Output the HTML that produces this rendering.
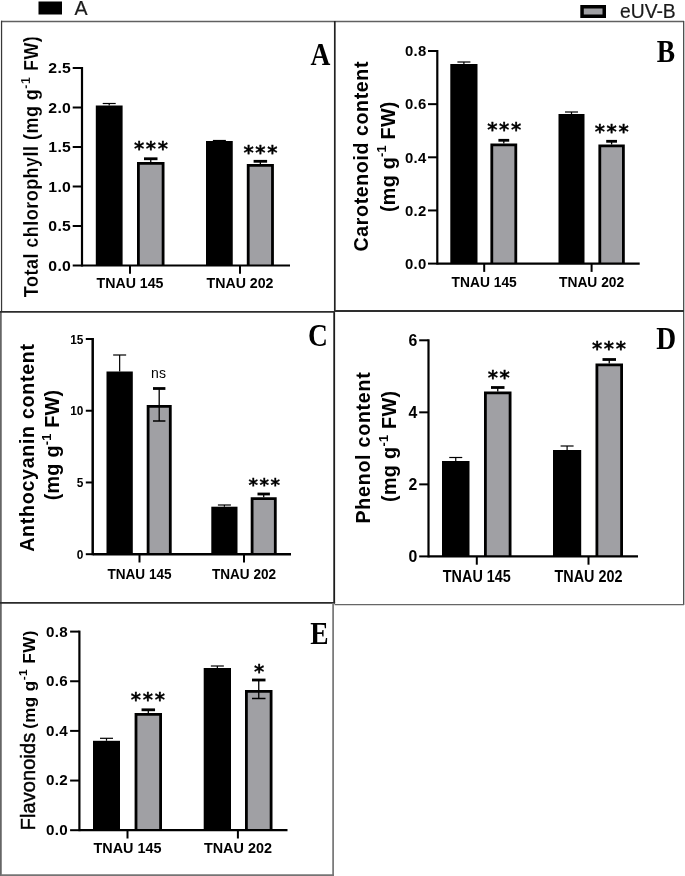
<!DOCTYPE html>
<html lang="en"><head><meta charset="utf-8"><title>Figure</title>
<style>html,body{margin:0;padding:0;background:#fff}svg{display:block}</style></head>
<body>
<svg width="685" height="876" viewBox="0 0 685 876">
<rect width="685" height="876" fill="#fff"/>
<line x1="1" y1="21.5" x2="335" y2="21.5" stroke="#606060" stroke-width="1.4"/>
<line x1="335" y1="21.5" x2="684" y2="21.5" stroke="#606060" stroke-width="1.4"/>
<line x1="1.55" y1="20.7" x2="1.55" y2="311" stroke="#383838" stroke-width="1.25"/>
<line x1="0.85" y1="311" x2="0.85" y2="876" stroke="#666" stroke-width="1.8"/>
<line x1="334.8" y1="21" x2="334.8" y2="311" stroke="#222" stroke-width="1.7"/>
<line x1="334.2" y1="311" x2="334.2" y2="603.3" stroke="#1c1c1c" stroke-width="1.8"/>
<line x1="683.7" y1="21" x2="683.7" y2="605" stroke="#484848" stroke-width="1.3"/>
<line x1="684.6" y1="21" x2="684.6" y2="605" stroke="#c8c8c8" stroke-width="0.8"/>
<line x1="0" y1="311.8" x2="335" y2="311.8" stroke="#2c2c2c" stroke-width="1.7"/>
<line x1="334.5" y1="311.05" x2="684" y2="311.05" stroke="#2e2e2e" stroke-width="2.0"/>
<line x1="0" y1="602.9" x2="335.1" y2="602.9" stroke="#2a2a2a" stroke-width="1.8"/>
<line x1="334.5" y1="604.6" x2="684" y2="604.6" stroke="#666" stroke-width="1.3"/>
<line x1="333.1" y1="603" x2="333.1" y2="876" stroke="#747474" stroke-width="1.7"/>
<line x1="0.5" y1="875.1" x2="334" y2="875.1" stroke="#747474" stroke-width="1.9"/>
<rect x="38.5" y="1.5" width="23.5" height="13" fill="#000"/>
<text x="74.6" y="15.4" font-size="19.6" font-weight="normal" text-anchor="start" font-family='"Liberation Sans", sans-serif' fill="#1a1a1a" stroke="#1a1a1a" stroke-width="0.2">A</text>
<rect x="582.05" y="6.75" width="22.2" height="9.5" fill="#a0a0a4" stroke="#000" stroke-width="3.5"/>
<text x="620" y="18.4" font-size="19.3" font-weight="normal" text-anchor="start" font-family='"Liberation Sans", sans-serif' fill="#1a1a1a" stroke="#1a1a1a" stroke-width="0.2">eUV-B</text>
<line x1="82" y1="67" x2="82" y2="266.5" stroke="#000" stroke-width="2.2"/>
<line x1="72.7" y1="265.5" x2="82" y2="265.5" stroke="#000" stroke-width="2"/>
<text transform="translate(71.2 270.9) scale(1 0.95)" font-size="15.8" font-weight="bold" text-anchor="end" font-family='"Liberation Sans", sans-serif' letter-spacing="0.3">0.0</text>
<line x1="72.7" y1="226.0" x2="82" y2="226.0" stroke="#000" stroke-width="2"/>
<text transform="translate(71.2 231.4) scale(1 0.95)" font-size="15.8" font-weight="bold" text-anchor="end" font-family='"Liberation Sans", sans-serif' letter-spacing="0.3">0.5</text>
<line x1="72.7" y1="186.5" x2="82" y2="186.5" stroke="#000" stroke-width="2"/>
<text transform="translate(71.2 191.9) scale(1 0.95)" font-size="15.8" font-weight="bold" text-anchor="end" font-family='"Liberation Sans", sans-serif' letter-spacing="0.3">1.0</text>
<line x1="72.7" y1="147.0" x2="82" y2="147.0" stroke="#000" stroke-width="2"/>
<text transform="translate(71.2 152.4) scale(1 0.95)" font-size="15.8" font-weight="bold" text-anchor="end" font-family='"Liberation Sans", sans-serif' letter-spacing="0.3">1.5</text>
<line x1="72.7" y1="107.5" x2="82" y2="107.5" stroke="#000" stroke-width="2"/>
<text transform="translate(71.2 112.9) scale(1 0.95)" font-size="15.8" font-weight="bold" text-anchor="end" font-family='"Liberation Sans", sans-serif' letter-spacing="0.3">2.0</text>
<line x1="72.7" y1="68.0" x2="82" y2="68.0" stroke="#000" stroke-width="2"/>
<text transform="translate(71.2 73.4) scale(1 0.95)" font-size="15.8" font-weight="bold" text-anchor="end" font-family='"Liberation Sans", sans-serif' letter-spacing="0.3">2.5</text>
<line x1="130" y1="265.5" x2="130" y2="273.8" stroke="#000" stroke-width="2"/>
<text transform="translate(130 288.4) scale(1 1.05)" font-size="14.2" font-weight="bold" text-anchor="middle" font-family='"Liberation Sans", sans-serif' >TNAU 145</text>
<line x1="240" y1="265.5" x2="240" y2="273.8" stroke="#000" stroke-width="2"/>
<text transform="translate(240 288.4) scale(1 1.05)" font-size="14.2" font-weight="bold" text-anchor="middle" font-family='"Liberation Sans", sans-serif' >TNAU 202</text>
<line x1="109.19999999999999" y1="103.5" x2="109.19999999999999" y2="105.5" stroke="#000" stroke-width="1.2"/>
<line x1="102.69999999999999" y1="103.5" x2="115.69999999999999" y2="103.5" stroke="#000" stroke-width="1.2"/>
<rect x="95.8" y="105.5" width="26.799999999999997" height="160.0" fill="#000"/>
<path d="M138.40 265.5V163.40H163.10V265.5" fill="#a0a0a4" stroke="#000" stroke-width="2.8"/>
<line x1="150.75" y1="158.75" x2="150.75" y2="162" stroke="#000" stroke-width="1.3"/>
<line x1="144.0" y1="158.75" x2="157.5" y2="158.75" stroke="#000" stroke-width="2.8"/>
<line x1="219.375" y1="140.5" x2="219.375" y2="141" stroke="#000" stroke-width="1.2"/>
<line x1="212.875" y1="140.5" x2="225.875" y2="140.5" stroke="#000" stroke-width="1.2"/>
<rect x="206" y="141" width="26.75" height="124.5" fill="#000"/>
<path d="M248.20 265.5V165.40H272.50V265.5" fill="#a0a0a4" stroke="#000" stroke-width="2.8"/>
<line x1="260.35" y1="161.3" x2="260.35" y2="164" stroke="#000" stroke-width="1.3"/>
<line x1="253.60000000000002" y1="161.3" x2="267.1" y2="161.3" stroke="#000" stroke-width="2.8"/>
<line x1="82" y1="265.5" x2="290" y2="265.5" stroke="#000" stroke-width="2.2"/>
<text x="151.8" y="155.2" font-size="19.6" font-weight="bold" text-anchor="middle" letter-spacing="1.7" stroke="#000" stroke-width="0.3" font-family='"DejaVu Sans", sans-serif'>***</text>
<text x="261.3" y="158.6" font-size="19.6" font-weight="bold" text-anchor="middle" letter-spacing="1.7" stroke="#000" stroke-width="0.3" font-family='"DejaVu Sans", sans-serif'>***</text>
<text transform="translate(38.2 166.4) rotate(-90) scale(0.92 1)" font-size="19.5" font-weight="bold" text-anchor="middle" font-family='"Liberation Sans", sans-serif' letter-spacing="0.55" stroke="#fff" stroke-width="0.15">Total chlorophyll (mg g<tspan font-size="70%" dy="-8.6">-1</tspan><tspan dy="8.6"> </tspan>FW)</text>
<text transform="translate(320.5 65) scale(1 1.12)" font-size="27.5" font-weight="bold" text-anchor="middle" font-family='"Liberation Serif", serif'>A</text>
<line x1="437.3" y1="50" x2="437.3" y2="264.6" stroke="#000" stroke-width="2.2"/>
<line x1="428.0" y1="263.6" x2="437.3" y2="263.6" stroke="#000" stroke-width="2"/>
<text transform="translate(426.5 268.8) scale(1 1.0)" font-size="14.9" font-weight="bold" text-anchor="end" font-family='"Liberation Sans", sans-serif' letter-spacing="0.3">0.0</text>
<line x1="428.0" y1="210.45000000000002" x2="437.3" y2="210.45000000000002" stroke="#000" stroke-width="2"/>
<text transform="translate(426.5 215.65) scale(1 1.0)" font-size="14.9" font-weight="bold" text-anchor="end" font-family='"Liberation Sans", sans-serif' letter-spacing="0.3">0.2</text>
<line x1="428.0" y1="157.3" x2="437.3" y2="157.3" stroke="#000" stroke-width="2"/>
<text transform="translate(426.5 162.5) scale(1 1.0)" font-size="14.9" font-weight="bold" text-anchor="end" font-family='"Liberation Sans", sans-serif' letter-spacing="0.3">0.4</text>
<line x1="428.0" y1="104.15" x2="437.3" y2="104.15" stroke="#000" stroke-width="2"/>
<text transform="translate(426.5 109.35000000000001) scale(1 1.0)" font-size="14.9" font-weight="bold" text-anchor="end" font-family='"Liberation Sans", sans-serif' letter-spacing="0.3">0.6</text>
<line x1="428.0" y1="51.0" x2="437.3" y2="51.0" stroke="#000" stroke-width="2"/>
<text transform="translate(426.5 56.2) scale(1 1.0)" font-size="14.9" font-weight="bold" text-anchor="end" font-family='"Liberation Sans", sans-serif' letter-spacing="0.3">0.8</text>
<line x1="484.2" y1="263.6" x2="484.2" y2="271.90000000000003" stroke="#000" stroke-width="2"/>
<text transform="translate(484.2 287.40000000000003) scale(1 1.1)" font-size="13.8" font-weight="bold" text-anchor="middle" font-family='"Liberation Sans", sans-serif' >TNAU 145</text>
<line x1="591.6" y1="263.6" x2="591.6" y2="271.90000000000003" stroke="#000" stroke-width="2"/>
<text transform="translate(591.6 287.40000000000003) scale(1 1.1)" font-size="13.8" font-weight="bold" text-anchor="middle" font-family='"Liberation Sans", sans-serif' >TNAU 202</text>
<line x1="463.9" y1="62" x2="463.9" y2="64" stroke="#000" stroke-width="1.2"/>
<line x1="457.4" y1="62" x2="470.4" y2="62" stroke="#000" stroke-width="1.2"/>
<rect x="450.3" y="64" width="27.19999999999999" height="199.60000000000002" fill="#000"/>
<path d="M491.80 263.6V144.90H515.80V263.6" fill="#a0a0a4" stroke="#000" stroke-width="2.8"/>
<line x1="503.8" y1="140.3" x2="503.8" y2="143.5" stroke="#000" stroke-width="1.3"/>
<line x1="498.40000000000003" y1="140.3" x2="509.2" y2="140.3" stroke="#000" stroke-width="2.8"/>
<line x1="571.5" y1="112" x2="571.5" y2="114" stroke="#000" stroke-width="1.2"/>
<line x1="565.0" y1="112" x2="578.0" y2="112" stroke="#000" stroke-width="1.2"/>
<rect x="558.5" y="114" width="26.0" height="149.60000000000002" fill="#000"/>
<path d="M599.80 263.6V145.90H623.40V263.6" fill="#a0a0a4" stroke="#000" stroke-width="2.8"/>
<line x1="611.5999999999999" y1="141.3" x2="611.5999999999999" y2="144.5" stroke="#000" stroke-width="1.3"/>
<line x1="606.1999999999999" y1="141.3" x2="616.9999999999999" y2="141.3" stroke="#000" stroke-width="2.8"/>
<line x1="437.3" y1="263.6" x2="639.7" y2="263.6" stroke="#000" stroke-width="2.2"/>
<text x="505.1" y="135.8" font-size="19.6" font-weight="bold" text-anchor="middle" letter-spacing="1.7" stroke="#000" stroke-width="0.3" font-family='"DejaVu Sans", sans-serif'>***</text>
<text x="612.5999999999999" y="138.4" font-size="19.6" font-weight="bold" text-anchor="middle" letter-spacing="1.7" stroke="#000" stroke-width="0.3" font-family='"DejaVu Sans", sans-serif'>***</text>
<text transform="translate(368.1 156.2) rotate(-90) scale(1 1)" font-size="19.6" font-weight="bold" text-anchor="middle" font-family='"Liberation Sans", sans-serif' letter-spacing="0.6">Carotenoid content</text>
<text transform="translate(395 156.7) rotate(-90) scale(1 1)" font-size="19.8" font-weight="bold" text-anchor="middle" font-family='"Liberation Sans", sans-serif' letter-spacing="0.25">(mg g<tspan font-size="64%" dy="-8.7">-1</tspan><tspan dy="8.7"> </tspan>FW)</text>
<text transform="translate(666 62) scale(1 1.12)" font-size="27.5" font-weight="bold" text-anchor="middle" font-family='"Liberation Serif", serif'>B</text>
<line x1="92.7" y1="338" x2="92.7" y2="555.2" stroke="#000" stroke-width="2.5"/>
<line x1="85.8" y1="554.2" x2="92.7" y2="554.2" stroke="#000" stroke-width="2"/>
<text transform="translate(83.4 558.9000000000001) scale(1 1.1)" font-size="11.9" font-weight="bold" text-anchor="end" font-family='"Liberation Sans", sans-serif' >0</text>
<line x1="85.8" y1="482.4666666666667" x2="92.7" y2="482.4666666666667" stroke="#000" stroke-width="2"/>
<text transform="translate(83.4 487.1666666666667) scale(1 1.1)" font-size="11.9" font-weight="bold" text-anchor="end" font-family='"Liberation Sans", sans-serif' >5</text>
<line x1="85.8" y1="410.73333333333335" x2="92.7" y2="410.73333333333335" stroke="#000" stroke-width="2"/>
<text transform="translate(83.4 415.43333333333334) scale(1 1.1)" font-size="11.9" font-weight="bold" text-anchor="end" font-family='"Liberation Sans", sans-serif' >10</text>
<line x1="85.8" y1="339.0" x2="92.7" y2="339.0" stroke="#000" stroke-width="2"/>
<text transform="translate(83.4 343.7) scale(1 1.1)" font-size="11.9" font-weight="bold" text-anchor="end" font-family='"Liberation Sans", sans-serif' >15</text>
<line x1="139.5" y1="554.2" x2="139.5" y2="562.5" stroke="#000" stroke-width="2"/>
<text transform="translate(139.5 578.8000000000001) scale(1 1.12)" font-size="13.6" font-weight="bold" text-anchor="middle" font-family='"Liberation Sans", sans-serif' >TNAU 145</text>
<line x1="244" y1="554.2" x2="244" y2="562.5" stroke="#000" stroke-width="2"/>
<text transform="translate(244 578.8000000000001) scale(1 1.12)" font-size="13.6" font-weight="bold" text-anchor="middle" font-family='"Liberation Sans", sans-serif' >TNAU 202</text>
<line x1="119.65" y1="355" x2="119.65" y2="371.5" stroke="#000" stroke-width="1.2"/>
<line x1="113.15" y1="355" x2="126.15" y2="355" stroke="#000" stroke-width="1.2"/>
<rect x="106.5" y="371.5" width="26.30000000000001" height="182.70000000000005" fill="#000"/>
<path d="M148.10 554.2V406.40H170.30V554.2" fill="#a0a0a4" stroke="#000" stroke-width="2.8"/>
<line x1="159.2" y1="388.5" x2="159.2" y2="421" stroke="#000" stroke-width="1.3"/>
<line x1="153.0" y1="388.5" x2="165.39999999999998" y2="388.5" stroke="#000" stroke-width="2.8"/>
<line x1="153.0" y1="421" x2="165.39999999999998" y2="421" stroke="#000" stroke-width="1.5"/>
<line x1="224.4" y1="505" x2="224.4" y2="506.7" stroke="#000" stroke-width="1.2"/>
<line x1="217.9" y1="505" x2="230.9" y2="505" stroke="#000" stroke-width="1.2"/>
<rect x="211.3" y="506.7" width="26.19999999999999" height="47.50000000000006" fill="#000"/>
<path d="M252.10 554.2V498.70H275.30V554.2" fill="#a0a0a4" stroke="#000" stroke-width="2.8"/>
<line x1="263.7" y1="494" x2="263.7" y2="497.3" stroke="#000" stroke-width="1.3"/>
<line x1="257.5" y1="494" x2="269.9" y2="494" stroke="#000" stroke-width="2.8"/>
<line x1="92.7" y1="554.2" x2="291" y2="554.2" stroke="#000" stroke-width="2.5"/>
<text x="264.90000000000003" y="490.5" font-size="18.2" font-weight="bold" text-anchor="middle" letter-spacing="1.5" stroke="#000" stroke-width="0.3" font-family='"DejaVu Sans", sans-serif'>***</text>
<text x="158.5" y="378" font-size="14" font-weight="normal" text-anchor="middle" font-family='"Liberation Sans", sans-serif' >ns</text>
<text transform="translate(34.2 447.5) rotate(-90) scale(1 1)" font-size="19.6" font-weight="bold" text-anchor="middle" font-family='"Liberation Sans", sans-serif' letter-spacing="0.72">Anthocyanin content</text>
<text transform="translate(59.2 445) rotate(-90) scale(1 1)" font-size="19.8" font-weight="bold" text-anchor="middle" font-family='"Liberation Sans", sans-serif' letter-spacing="0.25">(mg g<tspan font-size="64%" dy="-8.7">-1</tspan><tspan dy="8.7"> </tspan>FW)</text>
<text transform="translate(318 345.6) scale(1 1.12)" font-size="27.5" font-weight="bold" text-anchor="middle" font-family='"Liberation Serif", serif'>C</text>
<line x1="428.5" y1="339.3" x2="428.5" y2="557.4" stroke="#000" stroke-width="2.2"/>
<line x1="419.2" y1="556.4" x2="428.5" y2="556.4" stroke="#000" stroke-width="2"/>
<text transform="translate(417.7 562.3) scale(1 1.0)" font-size="15.8" font-weight="bold" text-anchor="end" font-family='"Liberation Sans", sans-serif' letter-spacing="0.3">0</text>
<line x1="419.2" y1="484.3666666666667" x2="428.5" y2="484.3666666666667" stroke="#000" stroke-width="2"/>
<text transform="translate(417.7 490.26666666666665) scale(1 1.0)" font-size="15.8" font-weight="bold" text-anchor="end" font-family='"Liberation Sans", sans-serif' letter-spacing="0.3">2</text>
<line x1="419.2" y1="412.33333333333337" x2="428.5" y2="412.33333333333337" stroke="#000" stroke-width="2"/>
<text transform="translate(417.7 418.23333333333335) scale(1 1.0)" font-size="15.8" font-weight="bold" text-anchor="end" font-family='"Liberation Sans", sans-serif' letter-spacing="0.3">4</text>
<line x1="419.2" y1="340.29999999999995" x2="428.5" y2="340.29999999999995" stroke="#000" stroke-width="2"/>
<text transform="translate(417.7 346.19999999999993) scale(1 1.0)" font-size="15.8" font-weight="bold" text-anchor="end" font-family='"Liberation Sans", sans-serif' letter-spacing="0.3">6</text>
<line x1="476.8" y1="556.4" x2="476.8" y2="564.6999999999999" stroke="#000" stroke-width="2"/>
<text transform="translate(476.8 581.8) scale(1 1.1)" font-size="14.4" font-weight="bold" text-anchor="middle" font-family='"Liberation Sans", sans-serif' >TNAU 145</text>
<line x1="588.5" y1="556.4" x2="588.5" y2="564.6999999999999" stroke="#000" stroke-width="2"/>
<text transform="translate(588.5 581.8) scale(1 1.1)" font-size="14.4" font-weight="bold" text-anchor="middle" font-family='"Liberation Sans", sans-serif' >TNAU 202</text>
<line x1="455.75" y1="457.5" x2="455.75" y2="461" stroke="#000" stroke-width="1.2"/>
<line x1="449.25" y1="457.5" x2="462.25" y2="457.5" stroke="#000" stroke-width="1.2"/>
<rect x="442" y="461" width="27.5" height="95.39999999999998" fill="#000"/>
<path d="M485.40 556.4V392.90H510.10V556.4" fill="#a0a0a4" stroke="#000" stroke-width="2.8"/>
<line x1="497.75" y1="387.5" x2="497.75" y2="391.5" stroke="#000" stroke-width="1.3"/>
<line x1="491.0" y1="387.5" x2="504.5" y2="387.5" stroke="#000" stroke-width="2.8"/>
<line x1="567.1" y1="446" x2="567.1" y2="450" stroke="#000" stroke-width="1.2"/>
<line x1="560.6" y1="446" x2="573.6" y2="446" stroke="#000" stroke-width="1.2"/>
<rect x="553" y="450" width="28.200000000000045" height="106.39999999999998" fill="#000"/>
<path d="M596.90 556.4V364.90H621.60V556.4" fill="#a0a0a4" stroke="#000" stroke-width="2.8"/>
<line x1="609.25" y1="359.5" x2="609.25" y2="363.5" stroke="#000" stroke-width="1.3"/>
<line x1="602.5" y1="359.5" x2="616.0" y2="359.5" stroke="#000" stroke-width="2.8"/>
<line x1="428.5" y1="556.4" x2="638" y2="556.4" stroke="#000" stroke-width="2.2"/>
<text x="499.6" y="383.8" font-size="19.6" font-weight="bold" text-anchor="middle" letter-spacing="1.7" stroke="#000" stroke-width="0.3" font-family='"DejaVu Sans", sans-serif'>**</text>
<text x="609.8" y="355" font-size="19.6" font-weight="bold" text-anchor="middle" letter-spacing="1.7" stroke="#000" stroke-width="0.3" font-family='"DejaVu Sans", sans-serif'>***</text>
<text transform="translate(369.8 447.5) rotate(-90) scale(1 1)" font-size="19.6" font-weight="bold" text-anchor="middle" font-family='"Liberation Sans", sans-serif' letter-spacing="0.75">Phenol content</text>
<text transform="translate(396.4 446.3) rotate(-90) scale(1 1)" font-size="19.8" font-weight="bold" text-anchor="middle" font-family='"Liberation Sans", sans-serif' letter-spacing="0.3">(mg g<tspan font-size="64%" dy="-8.7">-1</tspan><tspan dy="8.7"> </tspan>FW)</text>
<text transform="translate(666.1 349.1) scale(1 1.12)" font-size="27.5" font-weight="bold" text-anchor="middle" font-family='"Liberation Serif", serif'>D</text>
<line x1="79.4" y1="630.6" x2="79.4" y2="831.2" stroke="#000" stroke-width="2.2"/>
<line x1="70.10000000000001" y1="830.2" x2="79.4" y2="830.2" stroke="#000" stroke-width="2"/>
<text transform="translate(67.9 835.1) scale(1 1.0)" font-size="15.2" font-weight="bold" text-anchor="end" font-family='"Liberation Sans", sans-serif' letter-spacing="0.3">0.0</text>
<line x1="70.10000000000001" y1="780.5500000000001" x2="79.4" y2="780.5500000000001" stroke="#000" stroke-width="2"/>
<text transform="translate(67.9 785.45) scale(1 1.0)" font-size="15.2" font-weight="bold" text-anchor="end" font-family='"Liberation Sans", sans-serif' letter-spacing="0.3">0.2</text>
<line x1="70.10000000000001" y1="730.9000000000001" x2="79.4" y2="730.9000000000001" stroke="#000" stroke-width="2"/>
<text transform="translate(67.9 735.8000000000001) scale(1 1.0)" font-size="15.2" font-weight="bold" text-anchor="end" font-family='"Liberation Sans", sans-serif' letter-spacing="0.3">0.4</text>
<line x1="70.10000000000001" y1="681.25" x2="79.4" y2="681.25" stroke="#000" stroke-width="2"/>
<text transform="translate(67.9 686.15) scale(1 1.0)" font-size="15.2" font-weight="bold" text-anchor="end" font-family='"Liberation Sans", sans-serif' letter-spacing="0.3">0.6</text>
<line x1="70.10000000000001" y1="631.6" x2="79.4" y2="631.6" stroke="#000" stroke-width="2"/>
<text transform="translate(67.9 636.5) scale(1 1.0)" font-size="15.2" font-weight="bold" text-anchor="end" font-family='"Liberation Sans", sans-serif' letter-spacing="0.3">0.8</text>
<line x1="127.5" y1="830.2" x2="127.5" y2="838.5" stroke="#000" stroke-width="2"/>
<text transform="translate(127.5 852.7) scale(1 1.0)" font-size="14.4" font-weight="bold" text-anchor="middle" font-family='"Liberation Sans", sans-serif' >TNAU 145</text>
<line x1="237.9" y1="830.2" x2="237.9" y2="838.5" stroke="#000" stroke-width="2"/>
<text transform="translate(237.9 852.7) scale(1 1.0)" font-size="14.4" font-weight="bold" text-anchor="middle" font-family='"Liberation Sans", sans-serif' >TNAU 202</text>
<line x1="106.5" y1="738.3" x2="106.5" y2="740.8" stroke="#000" stroke-width="1.2"/>
<line x1="100.0" y1="738.3" x2="113.0" y2="738.3" stroke="#000" stroke-width="1.2"/>
<rect x="93" y="740.8" width="27" height="89.40000000000009" fill="#000"/>
<path d="M136.00 830.2V714.40H160.60V830.2" fill="#a0a0a4" stroke="#000" stroke-width="2.8"/>
<line x1="148.3" y1="709.8" x2="148.3" y2="713" stroke="#000" stroke-width="1.3"/>
<line x1="141.55" y1="709.8" x2="155.05" y2="709.8" stroke="#000" stroke-width="2.8"/>
<line x1="217.35" y1="666" x2="217.35" y2="668" stroke="#000" stroke-width="1.2"/>
<line x1="210.85" y1="666" x2="223.85" y2="666" stroke="#000" stroke-width="1.2"/>
<rect x="203.7" y="668" width="27.30000000000001" height="162.20000000000005" fill="#000"/>
<path d="M246.40 830.2V691.40H271.10V830.2" fill="#a0a0a4" stroke="#000" stroke-width="2.8"/>
<line x1="258.75" y1="680" x2="258.75" y2="698.5" stroke="#000" stroke-width="1.3"/>
<line x1="252.0" y1="680" x2="265.5" y2="680" stroke="#000" stroke-width="2.8"/>
<line x1="252.0" y1="698.5" x2="265.5" y2="698.5" stroke="#000" stroke-width="1.5"/>
<line x1="79.4" y1="830.2" x2="287.5" y2="830.2" stroke="#000" stroke-width="2.2"/>
<text x="148.70000000000002" y="706" font-size="19.6" font-weight="bold" text-anchor="middle" letter-spacing="1.7" stroke="#000" stroke-width="0.3" font-family='"DejaVu Sans", sans-serif'>***</text>
<text x="259.90000000000003" y="677.6" font-size="19.6" font-weight="bold" text-anchor="middle" letter-spacing="1.7" stroke="#000" stroke-width="0.3" font-family='"DejaVu Sans", sans-serif'>*</text>
<text transform="translate(319.5 644.2) scale(1 1.12)" font-size="27.5" font-weight="bold" text-anchor="middle" font-family='"Liberation Serif", serif'>E</text>
<text transform="translate(35 830.4) rotate(-90)" text-anchor="start" font-family='"Liberation Sans", sans-serif'><tspan font-size="20" font-weight="normal" stroke="#000" stroke-width="0.45" letter-spacing="0.1">Flavonoids </tspan><tspan font-size="16.9" font-weight="bold" letter-spacing="0.5" dx="-1.8">(mg g<tspan font-size="70%" dy="-7.6">-1</tspan><tspan dy="7.6"> </tspan>FW)</tspan></text>
</svg>
</body></html>
